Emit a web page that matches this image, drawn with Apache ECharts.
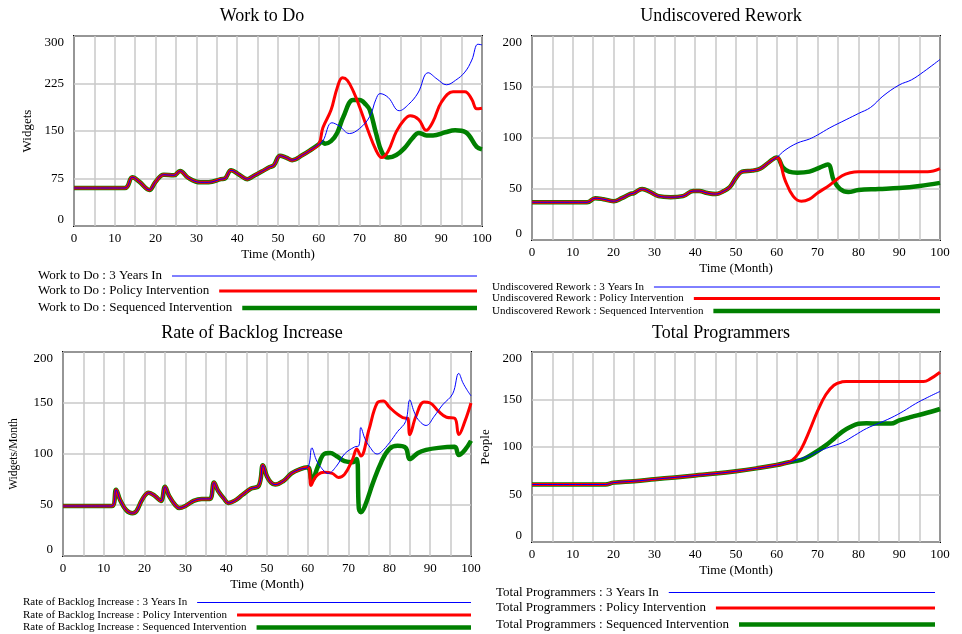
<!DOCTYPE html>
<html>
<head>
<meta charset="utf-8">
<script src="https://cdn.jsdelivr.net/npm/echarts@6/dist/echarts.min.js"></script>
<style>
    html, body { margin: 0; padding: 0; background: #fff; }
    #chart { width: 962px; height: 634px; }
</style>
</head>
<body>
<div id="chart"></div>
<script>
// months
const xTicks = [0, 10, 20, 30, 40, 50, 60, 70, 80, 90, 100];

// Work to Do (Widgets) - all runs equal up to month 60
const wtdBaseT = [0, 12.5, 14.3, 16, 18.5, 20, 22, 24.5, 26, 28, 31, 33, 36, 37, 38.5, 40.5, 42.5, 44, 46, 48, 49, 50.5, 52, 53.5, 56, 58, 60];
const wtdBaseV = [60, 60, 77, 70, 57, 70, 81, 80, 87, 76, 69, 69, 74, 75, 88, 81, 74, 79, 86, 93, 96, 111, 108, 104, 112, 120, 129];
const wtdYearsT = [61, 63.2, 65, 67.5, 70, 72.5, 74, 75, 77, 79.7, 82, 84.3, 86.8, 89, 91.3, 93.5, 95.8, 97.5, 99, 100];
const wtdYearsV = [134, 163, 158, 146, 154, 173, 200, 209, 203, 182, 192, 210, 242, 232, 223, 230, 243, 262, 287, 286];
const wtdPolicyT = [61, 63, 64.5, 65.8, 67, 68.5, 70, 72, 74, 75.4, 77, 79, 81, 82.4, 84.5, 86.3, 88, 90, 92.9, 95.8, 97.5, 98.7, 100];
const wtdPolicyV = [155, 183, 218, 234, 230, 212, 188, 152, 120, 108, 118, 149, 168, 174, 168, 151, 165, 195, 212, 212, 200, 185, 186];
const wtdSeqT = [60.7, 61.5, 63, 64.5, 66, 68.4, 70, 71.5, 72.5, 74, 75.5, 77, 79, 81, 83, 84.5, 86.4, 88, 91, 93.4, 96, 98.7, 100];
const wtdSeqV = [133, 130, 134, 147, 172, 199, 199, 192, 183, 147, 116, 108, 112, 123, 139, 147, 143, 143, 148, 151, 148, 125, 121];

// Undiscovered Rework
const urBaseT = [0, 13.5, 15.5, 17.5, 20, 22, 24, 25, 27, 29, 31, 34, 37, 39.5, 41, 43, 45, 47, 48.5, 50, 51.5, 54, 56, 58, 60];
const urBaseV = [37, 37, 41, 40, 38, 41, 45, 46, 50, 47, 43, 42, 43, 48, 48, 46, 45, 48, 52, 61, 67, 68, 70, 76, 81];
const urYearsT = [62, 65, 68, 70, 73, 77, 80, 83, 86, 90, 93, 96, 100];
const urYearsV = [88, 95, 99, 103, 110, 118, 124, 130, 141, 152, 157, 165, 177];
const urPolicyT = [62, 64, 66, 68, 70, 73, 76, 78, 80, 90, 97, 100];
const urPolicyV = [59, 43, 38, 40, 46, 54, 63, 66, 67, 67, 67, 70];
const urSeqT = [61.5, 63, 65, 68, 70.5, 72.5, 74, 75.5, 77.5, 80, 85, 90, 95, 100];
const urSeqV = [71, 67, 66, 67, 71, 74, 58, 50, 47, 49, 50, 51, 53, 56];

// Rate of Backlog Increase (Widgets/Month)
const rbBaseT = [0, 12, 13, 14, 15.5, 17, 18, 19.5, 21, 22.5, 24, 25, 26, 27.5, 28.5, 30, 32, 34, 36, 37, 38, 39.5, 40.5, 42, 44, 46, 48, 49, 50, 51, 52, 54, 56, 58, 60];
const rbBaseV = [49, 49, 65, 55, 45, 42, 44, 56, 62, 59, 54, 68, 59, 50, 47, 49, 54, 56, 56, 72, 64, 56, 52, 54, 60, 66, 69, 89, 78, 72, 70, 73.5, 81, 85, 87];
const rbYearsT = [61, 62, 63, 65, 67, 69, 71.5, 72.5, 73, 74, 75, 77, 78, 80, 82, 84, 85, 86, 87, 89, 91, 93, 95.5, 97, 98, 99, 100];
const rbYearsV = [106, 95, 88, 81, 88, 100, 107, 108, 126, 115, 108, 100, 102, 111, 122, 132, 153, 142, 134, 128, 137, 148, 159, 179, 170, 163, 157];
const rbPolicyT = [60.8, 61.5, 62.5, 64, 66, 67.5, 69, 71, 72, 73, 75, 77, 78.5, 80, 82, 84, 84.5, 85, 86.5, 88.5, 90, 92, 94, 96, 97, 98.5, 100];
const rbPolicyV = [69, 75, 80, 82, 81, 77, 80, 95, 105, 98, 124, 150, 152, 146, 139, 135, 135, 119, 137, 151, 150, 142, 136, 135, 119, 132, 150];
const rbSeqT = [61, 62.5, 64, 65.5, 67, 69, 71, 72, 72.5, 73, 74, 76, 78, 80, 82, 84, 85, 87, 89, 92, 96, 97, 98.5, 100];
const rbSeqV = [74, 88, 100, 101, 98, 93, 92, 95, 47, 43, 49, 72, 92, 105, 108, 106, 95, 101, 104, 106, 107, 99, 104, 113];

// Total Programmers (People)
const tpBaseT = [0, 18, 20, 25, 30, 35, 40, 45, 50, 55, 60, 63];
const tpBaseV = [60.5, 60.5, 62.5, 64, 66, 68, 70, 72, 74.5, 77.5, 81, 84];
const tpYearsT = [65, 68, 70, 73, 76, 79, 82, 85, 88, 91, 94, 97, 100];
const tpYearsV = [86.4, 91, 95, 100, 104.5, 112, 119.5, 125, 130.7, 137.6, 145.6, 152.3, 158.5];
const tpPolicyT = [64.5, 66, 68, 70, 72, 74, 76, 77, 96, 97.5, 100];
const tpPolicyV = [89, 98, 117, 138, 155, 165, 168.6, 169, 169, 171.4, 178.7];
const tpSeqT = [66, 68, 70, 72, 74, 76, 78, 80, 82, 85, 88, 90, 93, 96, 100];
const tpSeqV = [86.4, 90.6, 95.8, 101.7, 108.7, 116, 121, 124.4, 125, 124.7, 124.7, 128, 131.7, 135, 140];

const runNames = ['3 Years In', 'Policy Intervention', 'Sequenced Intervention'];
const runColors = ['#0000ff', '#ff0000', '#008000'];
const runWidths = [1, 3, 4.5];

const FONT = '"Liberation Serif", "Times New Roman", serif';

const panels = [
    {
        title: 'Work to Do', titleX: 257, titleY: 2, yName: 'Widgets', yNameSize: 13, yNameGap: 40,
        grid: { left: 74, top: 36, width: 408, height: 190 }, yMax: 300, yStep: 75,
        base: [wtdBaseT, wtdBaseV], runs: [[wtdYearsT, wtdYearsV], [wtdPolicyT, wtdPolicyV], [wtdSeqT, wtdSeqV]],
        leg: { x: 38, ys: [276, 291, 308], end: 477, size: 13 }
    },
    {
        title: 'Undiscovered Rework', titleX: 716, titleY: 2, yName: '', yNameSize: 13, yNameGap: 40,
        grid: { left: 532, top: 36, width: 408, height: 204 }, yMax: 200, yStep: 50,
        base: [urBaseT, urBaseV], runs: [[urYearsT, urYearsV], [urPolicyT, urPolicyV], [urSeqT, urSeqV]],
        leg: { x: 492, ys: [287, 298.5, 311], end: 940, size: 11 }
    },
    {
        title: 'Rate of Backlog Increase', titleX: 247, titleY: 319, yName: 'Widgets/Month', yNameSize: 11.5, yNameGap: 43,
        grid: { left: 63, top: 352, width: 408, height: 204 }, yMax: 200, yStep: 50,
        base: [rbBaseT, rbBaseV], runs: [[rbYearsT, rbYearsV], [rbPolicyT, rbPolicyV], [rbSeqT, rbSeqV]],
        leg: { x: 23, ys: [602.5, 615, 627.5], end: 471, size: 11 }
    },
    {
        title: 'Total Programmers', titleX: 716, titleY: 319, yName: 'People', yNameSize: 13, yNameGap: 40,
        grid: { left: 532, top: 352, width: 408, height: 190 }, yMax: 200, yStep: 50,
        base: [tpBaseT, tpBaseV], runs: [[tpYearsT, tpYearsV], [tpPolicyT, tpPolicyV], [tpSeqT, tpSeqV]],
        leg: { x: 496, ys: [592.5, 608, 624.5], end: 935, size: 13 }
    }
];

function toPairs(baseT, baseV, tailT, tailV) {
    const d = [];
    for (let i = 0; i < baseT.length; i++) d.push([baseT[i], baseV[i]]);
    for (let i = 0; i < tailT.length; i++) d.push([tailT[i], tailV[i]]);
    return d;
}

const measure = document.createElement('canvas').getContext('2d');
function textWidth(s, size) {
    measure.font = size + 'px ' + FONT;
    return measure.measureText(s).width;
}

const option = {
    animation: false,
    backgroundColor: '#fff',
    title: [],
    grid: [],
    xAxis: [],
    yAxis: [],
    series: [],
    graphic: []
};

panels.forEach(function (p, i) {
    option.title.push({
        text: p.title, left: p.titleX, top: p.titleY, textAlign: 'center',
        textStyle: { fontFamily: FONT, fontSize: 18, fontWeight: 'normal', color: '#000' }
    });
    option.grid.push(Object.assign({ show: true, borderColor: '#000', borderWidth: 2, backgroundColor: 'transparent' }, p.grid));
    option.xAxis.push({
        type: 'value', gridIndex: i, min: 0, max: 100, interval: 5,
        axisLine: { show: false }, axisTick: { show: false },
        splitLine: { show: true, lineStyle: { color: '#c8c8c8', width: 1.5 } },
        axisLabel: {
            margin: 6, fontFamily: FONT, fontSize: 13, color: '#000',
            formatter: function (v) { return xTicks.indexOf(v) >= 0 ? String(v) : ''; }
        },
        name: 'Time (Month)', nameLocation: 'middle', nameGap: 22,
        nameTextStyle: { fontFamily: FONT, fontSize: 13, color: '#000' }
    });
    option.yAxis.push({
        type: 'value', gridIndex: i, min: 0, max: p.yMax, interval: p.yStep,
        axisLine: { show: false }, axisTick: { show: false },
        splitLine: { show: true, lineStyle: { color: '#c8c8c8', width: 1.5 } },
        axisLabel: {
            margin: 10, fontFamily: FONT, fontSize: 13, color: '#000',
            verticalAlignMinLabel: 'bottom', verticalAlignMaxLabel: 'top'
        },
        name: p.yName, nameLocation: 'middle', nameGap: p.yNameGap,
        nameTextStyle: { fontFamily: FONT, fontSize: p.yNameSize, color: '#000' }
    });
    // draw green, then red, then blue on top
    [2, 1, 0].forEach(function (r) {
        option.series.push({
            type: 'line', name: p.title + ' : ' + runNames[r],
            xAxisIndex: i, yAxisIndex: i,
            data: toPairs(p.base[0], p.base[1], p.runs[r][0], p.runs[r][1]),
            showSymbol: false, smooth: 0.4,
            lineStyle: { color: runColors[r], width: runWidths[r] },
            itemStyle: { color: runColors[r] }
        });
    });
    // legend rows: "<var> : <run>" followed by a line sample
    runNames.forEach(function (rn, r) {
        const label = p.title + ' : ' + rn;
        const y = p.leg.ys[r];
        const start = p.leg.x + textWidth(label, p.leg.size) + 10;
        option.graphic.push({
            type: 'text', x: p.leg.x, y: y,
            style: { text: label, font: p.leg.size + 'px ' + FONT, fill: '#000', verticalAlign: 'middle' }
        });
        option.graphic.push({
            type: 'line', shape: { x1: start, y1: y, x2: p.leg.end, y2: y },
            style: { stroke: runColors[r], lineWidth: runWidths[r] }
        });
    });
});

const chart = echarts.init(document.getElementById('chart'), null, { renderer: 'canvas' });
chart.setOption(option);
</script>
</body>
</html>
